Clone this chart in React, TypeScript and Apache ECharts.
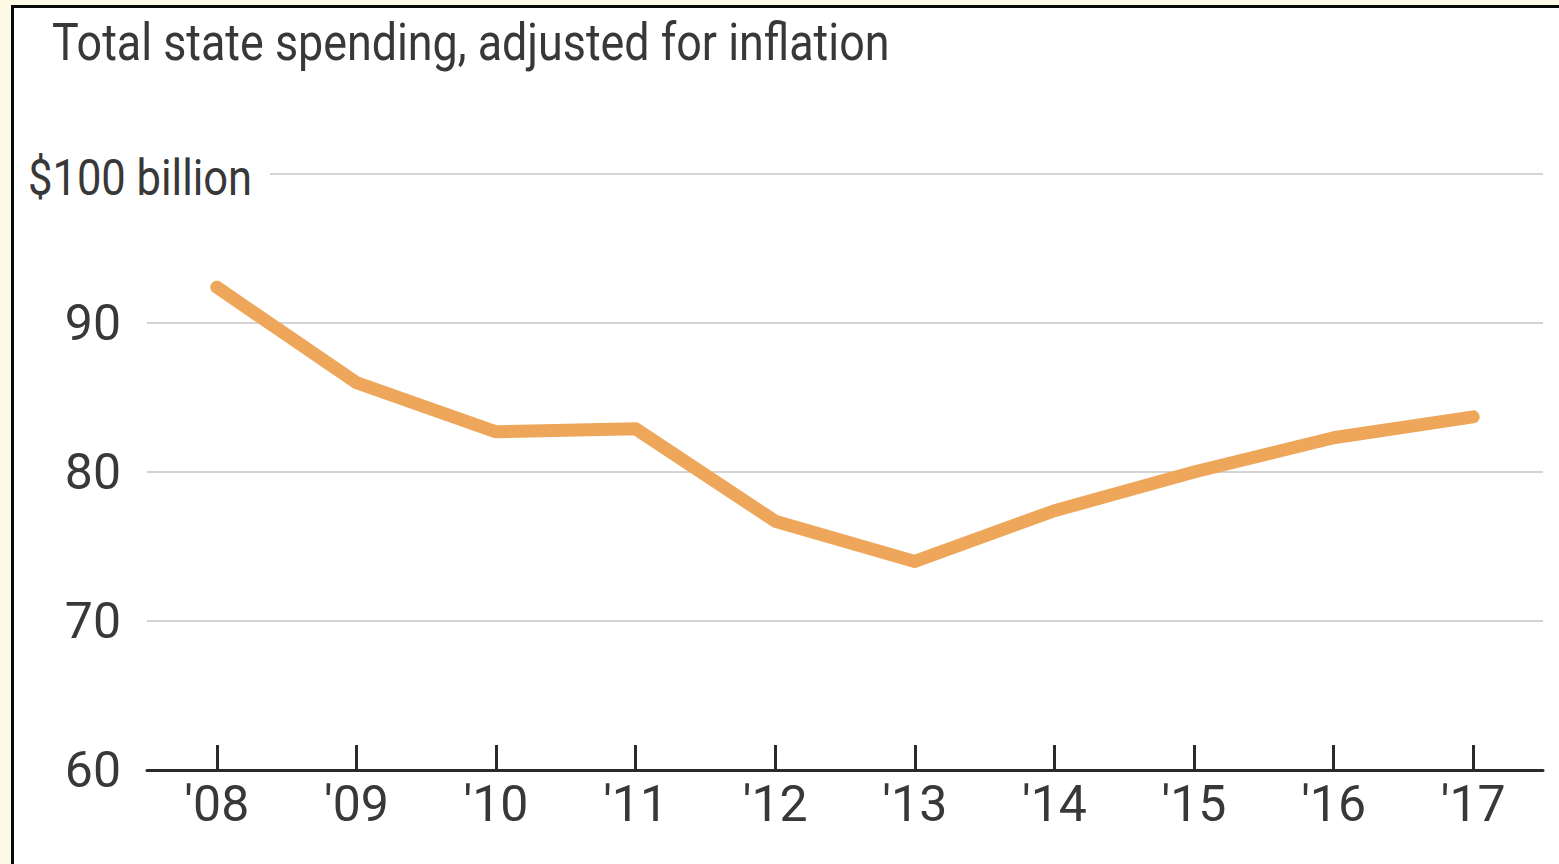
import React, { useEffect, useRef } from 'react';
import * as echarts from 'echarts';

const years = ["'08", "'09", "'10", "'11", "'12", "'13", "'14", "'15", "'16", "'17"];
const spending = [92.4, 86.0, 82.7, 82.9, 76.7, 74.0, 77.4, 80.0, 82.3, 83.7];
const yTicks = [60, 70, 80, 90, 100];
const unitLabel = '$100 billion';
const titleText = 'Total state spending, adjusted for inflation';

const FONT = "Roboto, 'Noto Sans', sans-serif";

export default function App() {
  const ref = useRef<HTMLDivElement>(null);
  useEffect(() => {
    if (!ref.current) return;
    const chart = echarts.init(ref.current, undefined, { renderer: 'svg' });
    const yMin = yTicks[0];
    const yMax = yTicks[yTicks.length - 1];
    const interval = yTicks[1] - yTicks[0];
    chart.setOption({
      animation: false,
      backgroundColor: '#fdfbe6',
      grid: { left: 147, right: 16, top: 174, bottom: 94, containLabel: false },
      xAxis: {
        type: 'category',
        data: years,
        boundaryGap: true,
        axisLine: { show: true, lineStyle: { color: '#2a2a2a', width: 3 } },
        axisTick: { show: true, alignWithLabel: true, inside: true, length: 25, lineStyle: { color: '#2a2a2a', width: 3 } },
        axisLabel: { color: '#383838', fontFamily: FONT, fontSize: 50, margin: 9 },
        splitLine: { show: false },
      },
      yAxis: {
        type: 'value',
        min: yMin,
        max: yMax,
        interval,
        axisLine: { show: false },
        axisTick: { show: false },
        axisLabel: {
          color: '#383838',
          fontFamily: FONT,
          fontSize: 50,
          margin: 26,
          formatter: (v: number) => (v === yMax ? '' : String(v)),
        },
        splitLine: { show: true, lineStyle: { color: '#d4d4d4', width: 2 } },
      },
      series: [
        {
          type: 'line',
          data: spending,
          symbol: 'none',
          lineStyle: { color: '#eea75a', width: 13, cap: 'round', join: 'round' },
        },
      ],
      graphic: [
        { type: 'rect', shape: { x: 11, y: 5, width: 1560, height: 870 }, style: { fill: '#ffffff' }, z: -10, silent: true },
        { type: 'rect', shape: { x: 11, y: 5, width: 1560, height: 3 }, style: { fill: '#0a0a0a' }, z: 100, silent: true },
        { type: 'rect', shape: { x: 11, y: 5, width: 3, height: 870 }, style: { fill: '#0a0a0a' }, z: 100, silent: true },
        { type: 'rect', shape: { x: 20, y: 150, width: 250, height: 50 }, style: { fill: '#ffffff' }, z: 50, silent: true },
        {
          type: 'text', x: 28, y: 178, z: 60, silent: true, scaleX: 0.87,
          style: { text: unitLabel, fill: '#383838', font: `50px ${FONT}`, textVerticalAlign: 'middle', textAlign: 'left' },
        },
        {
          type: 'text', x: 52, y: 42, z: 60, silent: true, scaleX: 0.862,
          style: { text: titleText, fill: '#383838', font: `52px ${FONT}`, textVerticalAlign: 'middle', textAlign: 'left' },
        },
      ],
    });
    return () => chart.dispose();
  }, []);
  return <div ref={ref} style={{ position: 'fixed', left: 0, top: 0, width: 1559, height: 864, background: '#fdfbe6' }} />;
}
